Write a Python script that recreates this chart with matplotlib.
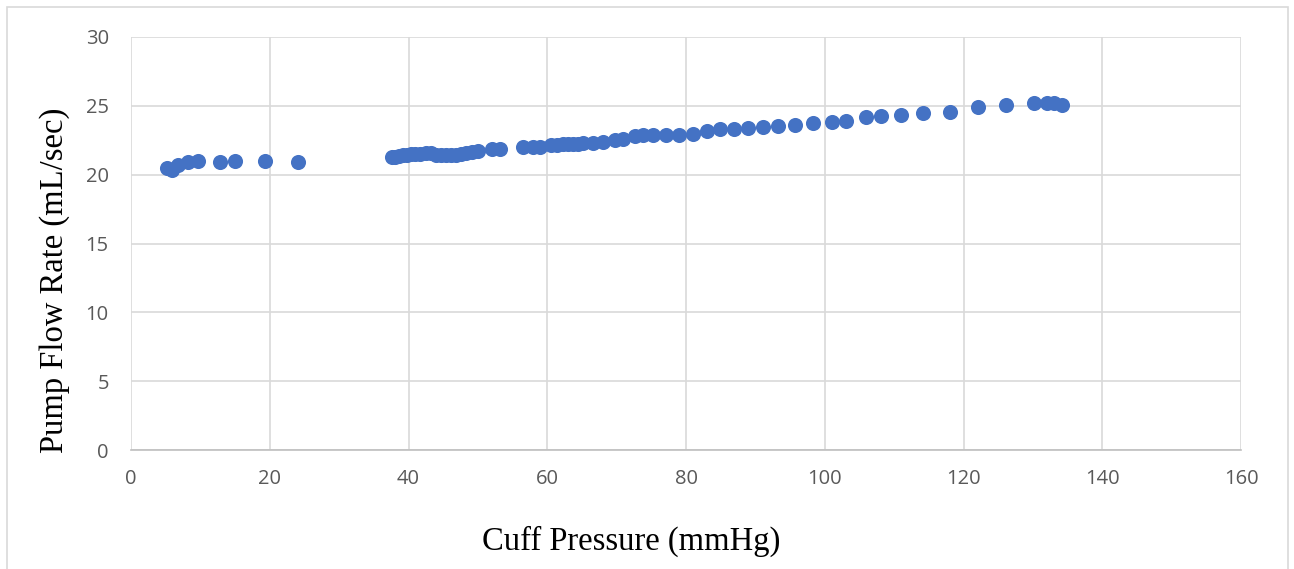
import matplotlib
matplotlib.use("Agg")
import matplotlib.pyplot as plt
from matplotlib.patches import Rectangle

# Cuff pressure (mmHg) and measured pump flow rate (mL/sec)
cuff_pressure = [
    5.2, 5.9, 6.8, 8.2, 9.7, 12.8, 15.0, 19.3, 24.1,
    37.6, 38.1, 38.6, 39.2, 39.8, 40.4, 40.9, 41.7, 42.5, 43.2,
    44.0, 44.7, 45.4, 46.1, 46.8, 47.6, 48.3, 49.2, 50.0, 52.0, 53.2,
    56.5, 57.9, 59.0, 60.6, 61.4, 62.3, 63.0, 63.7, 64.4, 65.2,
    66.6, 68.0, 69.8, 70.9, 72.6, 73.8, 75.2, 77.1, 79.0, 81.0,
    83.0, 84.9, 86.9, 89.0, 91.1, 93.2, 95.7, 98.3, 101.0, 103.1,
    106.0, 108.1, 111.0, 114.1, 118.1, 122.1, 126.1, 130.1, 132.0,
    133.1, 134.2,
]
flow_rate = [
    20.50, 20.35, 20.70, 20.90, 21.00, 20.92, 21.00, 20.98, 20.95,
    21.25, 21.27, 21.35, 21.42, 21.46, 21.50, 21.50, 21.50, 21.57, 21.57,
    21.46, 21.42, 21.42, 21.42, 21.46, 21.50, 21.57, 21.64, 21.71, 21.84, 21.84,
    22.03, 22.03, 22.04, 22.15, 22.15, 22.20, 22.22, 22.22, 22.24, 22.27,
    22.32, 22.39, 22.51, 22.56, 22.80, 22.88, 22.90, 22.85, 22.88, 22.95,
    23.19, 23.29, 23.33, 23.38, 23.48, 23.55, 23.63, 23.73, 23.80, 23.89,
    24.18, 24.23, 24.35, 24.45, 24.57, 24.90, 25.03, 25.17, 25.22,
    25.22, 25.05,
]

x_ticks = [0, 20, 40, 60, 80, 100, 120, 140, 160]
y_ticks = [0, 5, 10, 15, 20, 25, 30]

W, H = 1294, 569
fig = plt.figure(figsize=(W / 100, H / 100), dpi=100)
fig.patch.set_facecolor("white")

# outer chart-area frame
fig.patches.append(Rectangle((7 / W, -0.05), (1288 - 7) / W, 1.05 - 7 / H,
                             transform=fig.transFigure, fill=False,
                             edgecolor="#D9D9D9", linewidth=1.2))

ax = fig.add_axes([131 / W, 1 - 450 / H, (1241 - 131) / W, (450 - 37) / H])
ax.scatter(cuff_pressure, flow_rate, s=118, color="#4472C4", zorder=3,
           linewidths=0)

ax.set_xlim(0, 160)
ax.set_ylim(0, 30)
ax.set_xticks(x_ticks)
ax.set_yticks(y_ticks)
ax.grid(True, color="#D9D9D9", linewidth=1.2, zorder=0)
ax.set_axisbelow(True)
for side in ("top", "right", "left"):
    ax.spines[side].set_visible(False)
ax.spines["bottom"].set_color("#BFBFBF")
ax.spines["bottom"].set_linewidth(1.2)
ax.tick_params(length=0, labelsize=14.5, labelcolor="#595959")
ax.tick_params(axis="x", pad=14)
ax.tick_params(axis="y", pad=16)
for lbl in ax.get_xticklabels() + ax.get_yticklabels():
    lbl.set_family(["Open Sans", "DejaVu Sans"])

fig.text(55 / W, 1 - 280 / H, "Pump Flow Rate (mL/sec)", rotation=90,
         ha="center", va="center", fontsize=23.5, family="Liberation Serif",
         color="black")
fig.text(631 / W, 1 - 541 / H, "Cuff Pressure (mmHg)", ha="center",
         va="center", fontsize=23.5, family="Liberation Serif", color="black")

fig.savefig("out.png", dpi=100)
